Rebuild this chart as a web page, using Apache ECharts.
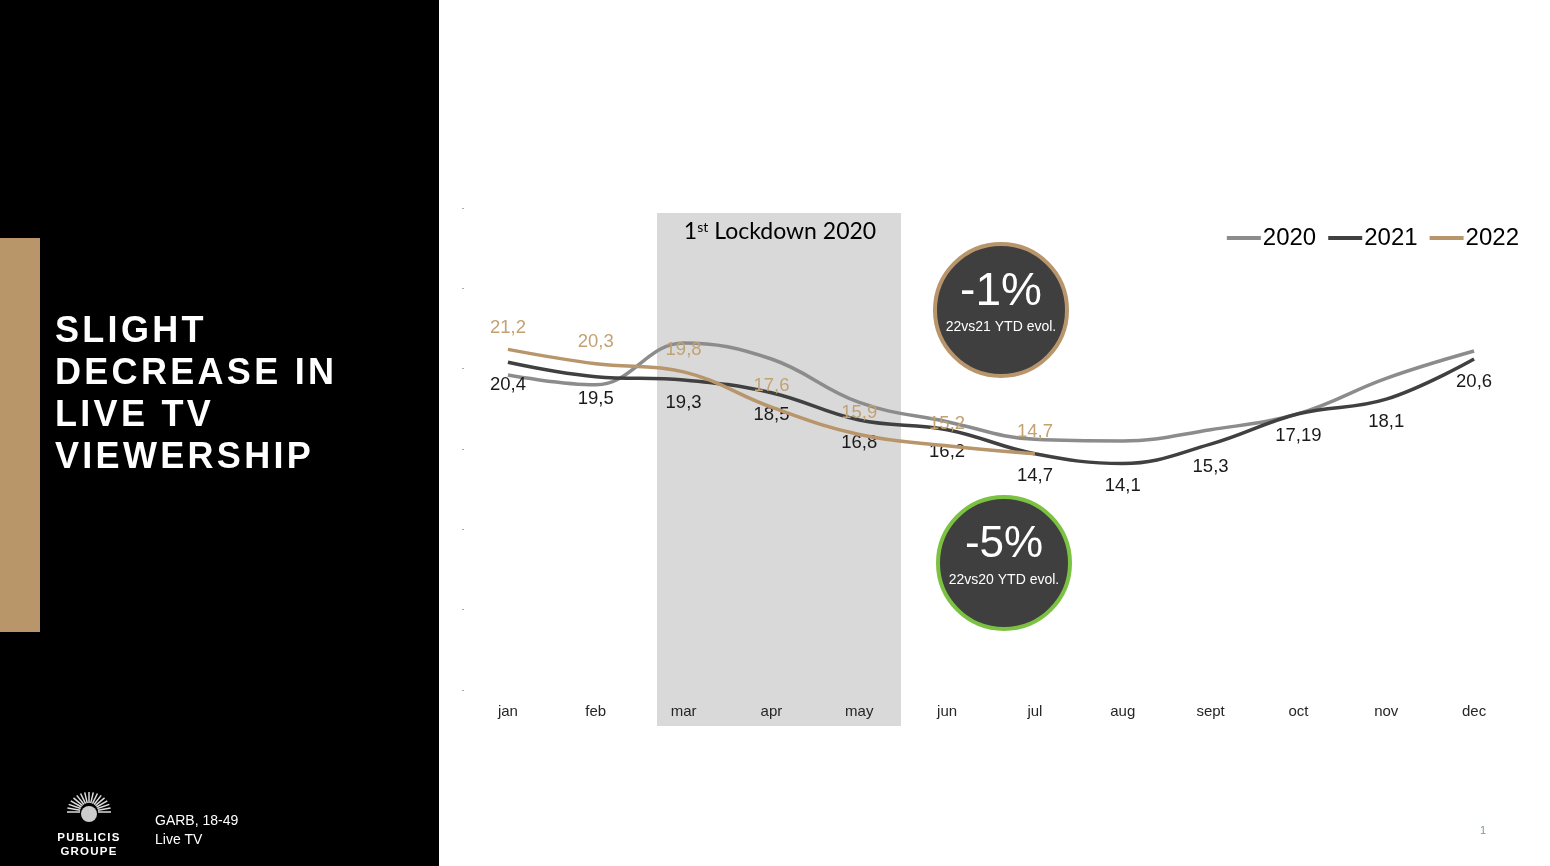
<!DOCTYPE html>
<html>
<head>
<meta charset="utf-8">
<script src="https://cdn.jsdelivr.net/npm/echarts@6/dist/echarts.min.js"></script>
<style>
	html, body { margin: 0; padding: 0; background: #fff; }
	#main { position: absolute; left: 0; top: 0; width: 1550px; height: 866px; }
	/* left panel texts, overlaid for the letter spacing */
	#headline {
		position: absolute; left: 55px; top: 309px;
		color: #fff; font: bold 36px "Liberation Sans", Arial, sans-serif;
		letter-spacing: 3.3px; line-height: 42px; pointer-events: none;
	}
	#logo {
		position: absolute; left: 52px; top: 830px; width: 74px; text-align: center;
		color: #fff; font: bold 11.5px "Liberation Sans", Arial, sans-serif;
		letter-spacing: 1.2px; line-height: 14px; pointer-events: none;
	}
</style>
</head>
<body>
<div id="main"></div>
<div id="headline">SLIGHT<br>DECREASE IN<br>LIVE TV<br>VIEWERSHIP</div>
<div id="logo">PUBLICIS<br>GROUPE</div>
<script>
	var months = ['jan', 'feb', 'mar', 'apr', 'may', 'jun', 'jul', 'aug', 'sept', 'oct', 'nov', 'dec'];
	var years = ['2020', '2021', '2022'];
	var v2020 = [19.6, 19.0, 21.6, 20.6, 17.9, 16.7, 15.6, 15.5, 16.2, 17.2, 19.4, 21.1];
	var v2021 = [20.4, 19.5, 19.3, 18.5, 16.8, 16.2, 14.7, 14.1, 15.3, 17.19, 18.1, 20.6];
	var v2022 = [21.2, 20.3, 19.8, 17.6, 15.9, 15.2, 14.7];
	var yTicks = [0, 30, 5]; // min, max, step

	var tan = '#b8956a', dark = '#404040', grey = '#8c8c8c';
	var numFont = '"Liberation Sans Narrow", "Liberation Sans", Arial, sans-serif';

	function comma(p) { //decimal comma
		return String(p.value).replace('.', ',');
	}

	// little sunburst standing in for the logo
	var rays = [];
	for (var i = 0; i < 17; i++) {
		var a = Math.PI + i * Math.PI / 16;
		rays.push({
			type: 'line', z: 1,
			shape: { x1: 89 + Math.cos(a) * 9, y1: 812 + Math.sin(a) * 9, x2: 89 + Math.cos(a) * 22, y2: 812 + Math.sin(a) * 20 },
			style: { stroke: '#ddd', lineWidth: 1.5 }
		});
	}

	var myChart = echarts.init(document.getElementById('main'));

	var option = {
		backgroundColor: '#fff',
		animation: false,
		grid: { left: 464, right: 32, top: 208, bottom: 176 },
		legend: {
			data: years,
			right: 26, top: 221,
			icon: 'rect',
			itemWidth: 34, itemHeight: 4, itemGap: 12,
			textStyle: { fontSize: 24, color: '#000', fontFamily: numFont, padding: [0, 0, 0, -3] }
		},
		xAxis: {
			type: 'category',
			data: months,
			z: 5,
			axisLine: { show: false },
			axisTick: { show: false },
			axisLabel: { color: '#262626', fontSize: 15, margin: 14, fontFamily: 'Liberation Sans, Arial' }
		},
		yAxis: {
			type: 'value',
			min: yTicks[0], max: yTicks[1], interval: yTicks[2],
			axisLine: { show: false },
			axisTick: { show: true, length: 2, lineStyle: { color: '#aaa' } },
			axisLabel: { show: false },
			splitLine: { show: false }
		},
		series: [
			{
				name: '2020', type: 'line', data: v2020, smooth: 0.4, symbol: 'circle', symbolSize: 0.1,
				lineStyle: { color: grey, width: 3.5 }, itemStyle: { color: grey }, z: 2
			},
			{
				name: '2021', type: 'line', data: v2021, smooth: 0.4, symbol: 'circle', symbolSize: 0.1,
				lineStyle: { color: dark, width: 3.5 }, itemStyle: { color: dark }, z: 3,
				label: {
					show: true, position: 'bottom', distance: 13, formatter: comma,
					color: '#1a1a1a', fontSize: 18.5, fontFamily: numFont
				}
			},
			{
				name: '2022', type: 'line', data: v2022, smooth: 0.4, symbol: 'circle', symbolSize: 0.1,
				lineStyle: { color: tan, width: 3.5 }, itemStyle: { color: tan }, z: 4,
				label: {
					show: true, position: 'top', distance: 12, formatter: comma,
					color: '#c2a272', fontSize: 18.5, fontFamily: numFont
				}
			}
		],
		graphic: [
			// left black panel + tan strip
			{ type: 'rect', z: -2, shape: { x: 0, y: 0, width: 439, height: 866 }, style: { fill: '#000' } },
			{ type: 'rect', z: -1, shape: { x: 0, y: 238, width: 40, height: 394 }, style: { fill: '#b8966a' } },
			// lockdown box
			{ type: 'rect', z: -1, shape: { x: 657, y: 213, width: 244, height: 513 }, style: { fill: '#d9d9d9' } },
			{
				type: 'text', z: 1, x: 780, y: 232,
				style: {
					text: '{n|1}{s|st}{n| Lockdown 2020}',
					align: 'center', verticalAlign: 'middle',
					rich: {
						n: { fontSize: 23, color: '#404040', fontFamily: 'Lato, "Open Sans", sans-serif' },
						s: { fontSize: 14, color: '#404040', fontFamily: 'Lato, "Open Sans", sans-serif', verticalAlign: 'top', padding: [0, 0, 9, 0] }
					}
				}
			},
			// YTD bubbles
			{ type: 'circle', z: 10, shape: { cx: 1001, cy: 310, r: 66 }, style: { fill: '#3f3f3f', stroke: '#b8956a', lineWidth: 4 } },
			{ type: 'text', z: 11, x: 1001, y: 292, style: { text: '-1%', fill: '#fff', fontSize: 46, fontFamily: numFont, align: 'center', verticalAlign: 'middle' } },
			{ type: 'text', z: 11, x: 1001, y: 327, style: { text: '22vs21 YTD evol.', fill: '#fff', fontSize: 14, fontFamily: numFont, align: 'center', verticalAlign: 'middle' } },
			{ type: 'circle', z: 10, shape: { cx: 1004, cy: 563, r: 66 }, style: { fill: '#3f3f3f', stroke: '#7cc242', lineWidth: 4 } },
			{ type: 'text', z: 11, x: 1004, y: 545, style: { text: '-5%', fill: '#fff', fontSize: 44, fontFamily: 'Liberation Sans, Arial', align: 'center', verticalAlign: 'middle' } },
			{ type: 'text', z: 11, x: 1004, y: 580, style: { text: '22vs20 YTD evol.', fill: '#fff', fontSize: 14, fontFamily: 'Liberation Sans, Arial', align: 'center', verticalAlign: 'middle' } },
			// footer
			{ type: 'circle', z: 1, shape: { cx: 89, cy: 814, r: 8 }, style: { fill: '#ccc' } },
			{ type: 'text', x: 155, y: 821, style: { text: 'GARB, 18-49', fill: '#fff', fontSize: 14, fontFamily: 'Liberation Sans, Arial', verticalAlign: 'middle' } },
			{ type: 'text', x: 155, y: 840, style: { text: 'Live TV', fill: '#fff', fontSize: 14, fontFamily: 'Liberation Sans, Arial', verticalAlign: 'middle' } },
			{ type: 'text', x: 1483, y: 831, style: { text: '1', fill: '#7a98a8', fontSize: 11, fontFamily: 'Liberation Sans, Arial', align: 'center', verticalAlign: 'middle' } }
		].concat(rays)
	};

	myChart.setOption(option);
</script>
</body>
</html>
